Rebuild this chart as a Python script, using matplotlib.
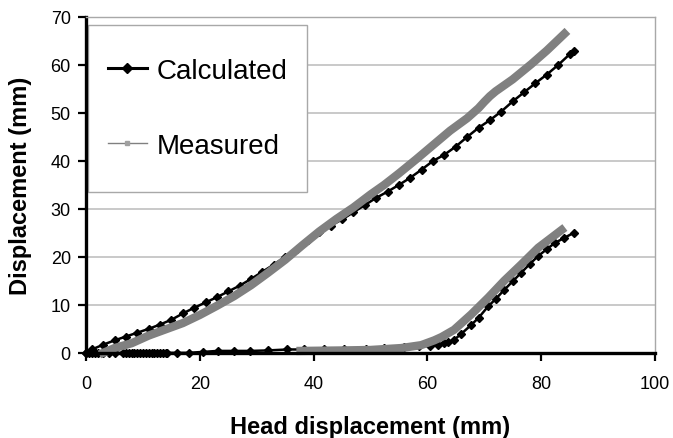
import matplotlib
matplotlib.use("Agg")
import matplotlib.pyplot as plt
from matplotlib.lines import Line2D
from matplotlib.patches import Rectangle

plt.rcParams['font.family'] = ['Liberation Sans', 'DejaVu Sans']

# -----------------------------
# data
# -----------------------------
calc_up_x = [0, 1, 3, 5, 7, 9, 11, 13, 15, 17, 19, 21, 23, 25, 27, 29, 31, 33, 35,
             37, 39, 41, 43, 45, 47, 49, 51, 53, 55, 57, 59, 61, 63, 65, 67, 69, 71,
             73, 75, 77, 79, 81, 83, 85, 85.7]
calc_up_y = [0, 0.7, 1.7, 2.6, 3.4, 4.2, 5.0, 5.9, 6.9, 8.2, 9.4, 10.5, 11.6, 12.8,
             14.0, 15.4, 16.9, 18.4, 20.0, 21.7, 23.5, 25.1, 26.5, 27.8, 29.3, 30.8,
             32.3, 33.6, 35.0, 36.5, 38.2, 40.0, 41.3, 43.0, 45.0, 46.9, 48.5, 50.3,
             52.4, 54.3, 56.2, 58.0, 60.0, 62.2, 62.9]

calc_low_x = [0, 0.5, 1, 1.5, 2, 3, 4, 5, 6.5, 7, 7.5, 8, 8.5, 9, 9.5, 10, 10.5, 11,
              11.5, 12, 12.5, 13, 13.5, 14, 14.3, 16, 18, 20.6, 23.1, 26, 28.9, 31.9,
              35.4, 38.3, 41.8, 45.3, 49.2, 52.4, 55.9, 58.6, 60.5, 61.9, 63, 63.7,
              64.7, 66, 67.7, 69, 70.7, 72, 73.5, 75, 76.5, 78, 79.5, 81, 82.4, 84,
              85.7]
calc_low_y = [0, 0, 0, 0, 0, 0, 0, 0, 0, 0, 0, 0, 0, 0, 0, 0, 0, 0, 0, 0, 0, 0, 0, 0,
              0, 0, 0, 0.2, 0.4, 0.4, 0.4, 0.5, 0.7, 0.7, 0.8, 0.9, 0.9, 1.0, 1.2,
              1.4, 1.5, 1.7, 2.0, 2.2, 2.7, 4.0, 5.8, 7.3, 9.7, 11.2, 13.1, 14.9,
              16.7, 18.5, 20.2, 21.6, 22.9, 23.9, 25.0]

meas_up_x = [3, 5, 8, 11, 14, 17, 20, 23, 26, 29, 32, 35, 38, 41, 44, 47, 50, 52.4,
             55, 58, 61, 64, 67, 69, 70, 71, 72, 75, 78.3, 81, 84.1]
meas_up_y = [0, 1.0, 2.0, 3.6, 4.9, 6.2, 7.9, 9.8, 11.8, 14.1, 16.7, 19.4, 22.4,
             25.3, 27.9, 30.3, 33.0, 35.0, 37.4, 40.3, 43.3, 46.3, 48.9, 51.0, 52.3,
             53.5, 54.5, 57.0, 60.2, 63.0, 66.5]

meas_low_x = [37.7, 45, 50, 55.4, 58.9, 61.2, 62.5, 64.7, 67.7, 70.7, 73.5, 76.5,
              79.5, 83.6]
meas_low_y = [0.4, 0.5, 0.6, 1.0, 1.6, 2.6, 3.3, 4.8, 8.0, 11.5, 15.0, 18.4, 21.9,
              25.6]

x_ticks = [0, 20, 40, 60, 80, 100]
y_ticks = [0, 10, 20, 30, 40, 50, 60, 70]

# -----------------------------
# figure
# -----------------------------
fig = plt.figure(figsize=(6.73, 4.39), dpi=100)
ax = fig.add_axes([0.128, 0.194, 0.845, 0.765])

black = "#000000"
gray = "#808080"

for xs, ys in [(calc_up_x, calc_up_y), (calc_low_x, calc_low_y)]:
    ax.plot(xs, ys, color=black, lw=1.8, marker="D", markersize=3.6,
            clip_on=False, zorder=3)
for xs, ys in [(meas_up_x, meas_up_y), (meas_low_x, meas_low_y)]:
    ax.plot(xs, ys, color=gray, lw=6.0, clip_on=False, zorder=4)

ax.set_xlim(0, 100)
ax.set_ylim(0, 70)
ax.set_xticks(x_ticks)
ax.set_yticks(y_ticks)

ax.yaxis.grid(True, color="#c0c0c0", lw=1.2)
ax.set_axisbelow(True)

for side in ["left", "bottom"]:
    ax.spines[side].set_linewidth(2.4)
    ax.spines[side].set_color(black)
for side in ["top", "right"]:
    ax.spines[side].set_linewidth(1.0)
    ax.spines[side].set_color("#a8a8a8")
for sp in ax.spines.values():
    sp.set_zorder(7)

ax.tick_params(axis="both", direction="out", length=6, width=1.6,
               labelsize=13, colors=black)
ax.tick_params(axis="x", pad=10)
ax.tick_params(axis="y", pad=5)
ax.tick_params(top=False, right=False)

ax.set_xlabel("Head displacement (mm)", fontsize=17, fontweight="bold")
ax.set_ylabel("Displacement (mm)", fontsize=17, fontweight="bold")
ax.xaxis.set_label_coords(0.5, -0.185)
ax.yaxis.set_label_coords(-0.095, 0.5)

# legend box
ax.add_patch(Rectangle((0.0035, 0.479), 0.385, 0.497, transform=ax.transAxes,
                       facecolor="white", edgecolor="#a8a8a8", lw=1.0,
                       zorder=5, clip_on=False))
handles = [
    Line2D([], [], color=black, lw=2.2, marker="D", markersize=5),
    Line2D([], [], color=gray, lw=1.0, marker="s", markersize=3.5,
           markerfacecolor="#a0a0a0", markeredgecolor="#a0a0a0"),
]
leg = ax.legend(handles, ["Calculated", "Measured"], loc="center",
                bbox_to_anchor=(0.196, 0.728), bbox_transform=ax.transAxes,
                frameon=False, fontsize=20, handlelength=1.4,
                handletextpad=0.35, labelspacing=1.75, borderpad=0)
leg.set_zorder(6)

fig.savefig("out.png", dpi=100)
